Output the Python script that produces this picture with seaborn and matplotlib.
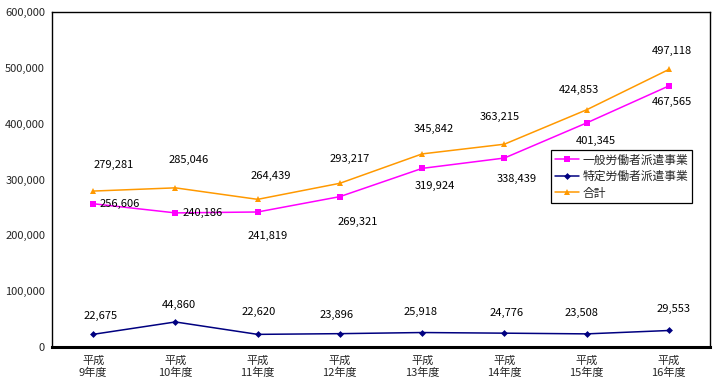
import matplotlib
matplotlib.use("Agg")
import matplotlib.pyplot as plt
import seaborn as sns
import pandas as pd
import numpy as np

categories = ["平成\n9年度", "平成\n10年度", "平成\n11年度", "平成\n12年度",
              "平成\n13年度", "平成\n14年度", "平成\n15年度", "平成\n16年度"]
general = [256606, 240186, 241819, 269321, 319924, 338439, 401345, 467565]
specific = [22675, 44860, 22620, 23896, 25918, 24776, 23508, 29553]
total = [279281, 285046, 264439, 293217, 345842, 363215, 424853, 497118]
series_names = ["一般労働者派遣事業", "特定労働者派遣事業", "合計"]
yticks = [0, 100000, 200000, 300000, 400000, 500000, 600000]

# label offsets in pixels (dx, dy)
off_general = [(27, 0), (27, 0), (10, -24), (18, -25), (13, -18), (12, -21), (9, -18), (3, -16)]
off_specific = [(7, 18), (3, 17), (1, 22), (-3, 19), (-2, 21), (2, 20), (-5, 21), (5, 22)]
off_total = [(21, 26), (13, 28), (13, 23), (10, 24), (12, 25), (-5, 27), (-8, 20), (3, 18)]

sns.set_style("white")
plt.rcParams['font.family'] = ['Noto Sans CJK JP', 'DejaVu Sans']

fig = plt.figure(figsize=(7.15, 3.85), dpi=100)
ax = fig.add_axes([52/715, 1-347/385, (710-52)/715, (347-12)/385])

x = np.arange(len(categories))
df = pd.DataFrame({"x": np.tile(x, 3),
                   "value": general + specific + total,
                   "series": np.repeat(series_names, len(categories))})

colors = {"一般労働者派遣事業": "#FF00FF", "特定労働者派遣事業": "#000080", "合計": "#FF9900"}
markers = {"一般労働者派遣事業": "s", "特定労働者派遣事業": "D", "合計": "^"}
msize = {"一般労働者派遣事業": 4.5, "特定労働者派遣事業": 3.5, "合計": 5}

for name in series_names:
    sub = df[df.series == name]
    sns.lineplot(data=sub, x="x", y="value", ax=ax, color=colors[name], marker=markers[name],
                 markersize=msize[name], markeredgewidth=0, linewidth=1.1, label=name)

fs = 8
for vals, offs in [(general, off_general), (specific, off_specific), (total, off_total)]:
    for i, (v, o) in enumerate(zip(vals, offs)):
        ax.annotate(f"{v:,}", (x[i], v), xytext=o, textcoords="offset pixels",
                    ha="center", va="center", fontsize=fs, color="black")

ax.set_xlim(-0.5, len(categories) - 0.5)
ax.set_ylim(0, 600000)
ax.set_yticks(yticks)
ax.set_yticklabels([f"{t:,}" for t in yticks], fontsize=fs)
ax.set_xticks(x)
ax.set_xticklabels(categories, fontsize=fs, linespacing=1.3)
ax.set_xticks(np.arange(len(categories) + 1) - 0.5, minor=True)
ax.tick_params(axis="x", which="major", length=0, pad=6)
ax.tick_params(axis="x", which="minor", length=3, width=0.8, direction="out")
ax.tick_params(axis="y", length=3, width=0.8, direction="out", pad=2)
ax.set_xlabel("")
ax.set_ylabel("")
for s in ["left", "top", "right"]:
    ax.spines[s].set_color("black")
    ax.spines[s].set_linewidth(1.0)
ax.spines["bottom"].set_color("black")
ax.spines["bottom"].set_linewidth(2.2)

leg = ax.legend(loc="upper left", bbox_to_anchor=(551/715, 1-150/385),
                bbox_transform=fig.transFigure, fontsize=8.5, frameon=True,
                fancybox=False, edgecolor="black", framealpha=1, borderpad=0.3,
                handlelength=2.1, handletextpad=0.3, labelspacing=0.3, borderaxespad=0)
leg.get_frame().set_linewidth(0.9)

fig.savefig("out.png", dpi=100)
